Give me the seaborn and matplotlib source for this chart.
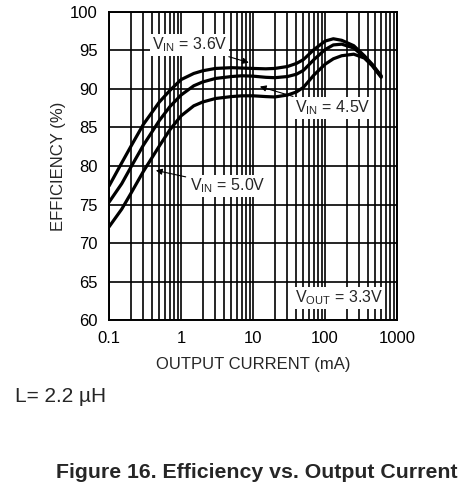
import numpy as np
import pandas as pd
import matplotlib
matplotlib.use('Agg')
import matplotlib.pyplot as plt
import seaborn as sns
from matplotlib.ticker import LogLocator, FixedLocator, NullFormatter

# Output current (mA) sample points
current_ma = [0.1, 0.15, 0.2, 0.3, 0.5, 0.7, 1, 1.5, 2, 3, 5, 7, 10, 15, 20,
              30, 40, 50, 70, 100, 130, 170, 250, 350, 450, 600]

# Efficiency (%) for each input voltage
eff_36 = [77.4, 80.4, 82.5, 85.4, 88.3, 89.8, 91.2, 92.0, 92.35, 92.65, 92.75, 92.7, 92.65,
          92.6, 92.65, 92.9, 93.3, 93.8, 95.1, 96.2, 96.5, 96.3, 95.6, 94.3, 93.2, 91.7]
eff_45 = [75.3, 77.7, 79.8, 82.7, 85.9, 87.7, 89.2, 90.4, 90.9, 91.35, 91.6, 91.7, 91.65,
          91.5, 91.45, 91.6, 91.9, 92.4, 93.8, 95.1, 95.7, 95.8, 95.3, 94.1, 93.1, 91.6]
eff_50 = [72.1, 74.4, 76.4, 79.3, 82.6, 84.7, 86.5, 87.8, 88.3, 88.75, 89.0, 89.1, 89.1,
          89.0, 88.95, 89.2, 89.6, 90.2, 91.8, 93.2, 93.9, 94.3, 94.5, 94.0, 93.0, 91.5]

y_ticks = [60, 65, 70, 75, 80, 85, 90, 95, 100]
x_ticks = [0.1, 1, 10, 100, 1000]
x_tick_labels = ['0.1', '1', '10', '100', '1000']

df = pd.DataFrame({
    'current': current_ma * 3,
    'efficiency': eff_36 + eff_45 + eff_50,
    'vin': ['3.6V'] * len(current_ma) + ['4.5V'] * len(current_ma) + ['5.0V'] * len(current_ma),
})

sns.set_style('white')
plt.rcParams['font.family'] = ['Liberation Sans', 'DejaVu Sans']
plt.rcParams['mathtext.fontset'] = 'custom'
plt.rcParams['mathtext.rm'] = 'Liberation Sans'

fig = plt.figure(figsize=(4.7, 4.91), dpi=100)
ax = fig.add_axes([0.232, 0.348, 0.613, 0.628])

sns.lineplot(data=df, x='current', y='efficiency', units='vin', estimator=None,
             color='black', linewidth=2.3, ax=ax, legend=False, zorder=3)

ax.set_xscale('log')
ax.set_xlim(0.1, 1000)
ax.set_ylim(60, 100)
ax.xaxis.set_major_locator(FixedLocator(x_ticks))
ax.set_xticklabels(x_tick_labels)
ax.xaxis.set_minor_locator(LogLocator(base=10, subs=np.arange(2, 10)))
ax.xaxis.set_minor_formatter(NullFormatter())
ax.set_yticks(y_ticks)
ax.grid(True, which='both', axis='x', color='black', linewidth=1.2)
ax.grid(True, which='major', axis='y', color='black', linewidth=1.2)
ax.tick_params(which='both', length=0, labelsize=12, colors='black')
ax.tick_params(axis='x', pad=8)
ax.tick_params(axis='y', pad=8)
for s in ax.spines.values():
    s.set_color('black')
    s.set_linewidth(1.4)

ax.set_xlabel('OUTPUT CURRENT (mA)', fontsize=12, labelpad=8)
ax.set_ylabel('EFFICIENCY (%)', fontsize=12, labelpad=3)

box = dict(boxstyle='square,pad=0.1', facecolor='white', edgecolor='none')
arrow = dict(arrowstyle='-|>', color='black', lw=0.8, mutation_scale=9)
ax.annotate(r'V$_{\mathregular{IN}}$ = 3.6V', xy=(9.5, 93.3), xytext=(0.39, 95.7),
            fontsize=11.5, va='center', ha='left', bbox=box, arrowprops=arrow, zorder=4)
ax.annotate(r'V$_{\mathregular{IN}}$ = 4.5V', xy=(11.4, 90.4), xytext=(38, 87.5),
            fontsize=11.5, va='center', ha='left', bbox=box, arrowprops=arrow, zorder=4)
ax.annotate(r'V$_{\mathregular{IN}}$ = 5.0V', xy=(0.41, 79.5), xytext=(1.33, 77.4),
            fontsize=11.5, va='center', ha='left', bbox=box, arrowprops=arrow, zorder=4)
ax.text(640, 62.9, r'V$_{\mathregular{OUT}}$ = 3.3V', fontsize=11.5, va='center',
        ha='right', bbox=box, zorder=4)

fig.text(15 / 470, 1 - 397 / 491, 'L= 2.2 µH', fontsize=15, va='center', ha='left')
fig.text(257 / 470, 1 - 472 / 491, 'Figure 16. Efficiency vs. Output Current',
         fontsize=15.3, fontweight='bold', va='center', ha='center')

fig.savefig('out.png', dpi=100)
